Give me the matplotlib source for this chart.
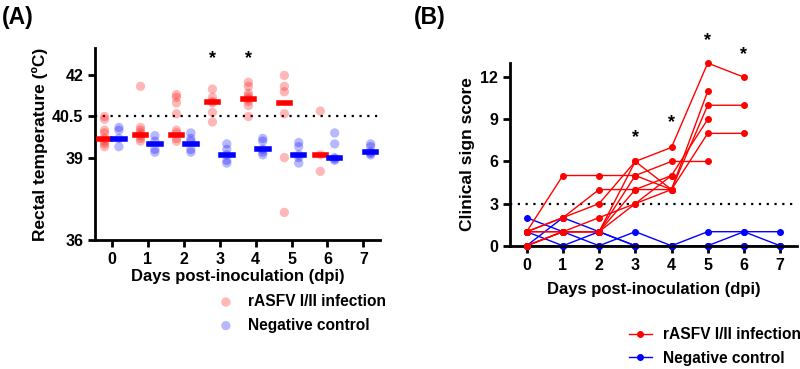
import matplotlib.pyplot as plt

plt.rcParams['font.family'] = ['Liberation Sans', 'DejaVu Sans']
plt.rcParams['font.weight'] = 'bold'

# ---- (A) rectal temperature, one list per day ----
days = [0, 1, 2, 3, 4, 5, 6, 7]
temp_inf = [
    [40.5, 40.4, 40.0, 39.9, 39.7, 39.6, 39.5, 39.4],
    [41.6, 40.1, 40.0, 39.9, 39.8, 39.7, 39.6],
    [41.3, 41.2, 41.0, 40.6, 40.0, 39.9, 39.7, 39.6],
    [41.5, 41.2, 41.05, 41.0, 40.65, 40.3],
    [41.75, 41.6, 41.35, 41.25, 41.15, 41.05, 40.9, 40.5],
    [42.0, 41.6, 41.4, 40.6, 39.0, 37.0],
    [40.7, 39.1, 38.5],
    [],
]
temp_ctrl = [
    [40.1, 40.0, 39.7, 39.4],
    [39.8, 39.6, 39.3, 39.2],
    [39.9, 39.7, 39.6, 39.3, 39.2],
    [39.5, 39.3, 39.1, 38.9, 38.8],
    [39.7, 39.6, 39.3, 39.2, 39.1],
    [39.55, 39.4, 39.1, 39.0, 38.8],
    [39.9, 39.5, 39.0, 38.95, 38.9],
    [39.5, 39.4, 39.2, 39.15, 39.1],
]
med_inf = [39.69, 39.84, 39.84, 41.02, 41.14, 41.0, 39.08, None]
med_ctrl = [39.69, 39.48, 39.48, 39.08, 39.3, 39.1, 38.97, 39.2]
fever = 40.5
star_days_a = [3, 4]

# ---- (B) clinical scores, one list per pig ----
score_inf = [
    [1, 5, 5, 5, 4, 10, 10],
    [1, 2, 4, 4, 4, 11],
    [0, 1, 1, 6, 7, 13, 12],
    [1, 1, 1, 5, 6, 6],
    [0, 1, 1, 4, 5, 9],
    [1, 2, 3, 6, 4, 8, 8],
    [1, 1, 2, 3, 5],
    [0, 1, 1, 3, 4],
]
score_ctrl = [
    [2, 1, 0, 0, 0, 0, 0, 0],
    [0, 2, 1, 0, 0, 1, 1, 1],
    [1, 0, 0, 1, 0, 0, 1, 0],
    [0, 0, 1, 0, 0, 0, 0, 0],
]
score_cut = 3
star_b = {3: 7.7, 4: 8.75, 5: 14.6, 6: 13.6}

RED = '#ff0000'
BLUE = '#0000ff'

fig = plt.figure(figsize=(8, 3.69), dpi=100)
axA = fig.add_axes([0.119, 0.350, 0.356, 0.520])
axB = fig.add_axes([0.6375, 0.334, 0.3585, 0.495])


def style(ax, pad):
    for s in ['top', 'right']:
        ax.spines[s].set_visible(False)
    for s in ['left', 'bottom']:
        ax.spines[s].set_linewidth(2)
    ax.tick_params(width=2, length=5, labelsize=11.5)
    ax.set_xticks(days)
    ax.set_xlim(-0.46, 7.46)
    ax.set_xlabel('Days post-inoculation (dpi)', fontsize=12, fontweight='bold', labelpad=pad)


# panel A
off = 0.2
for d in days:
    if temp_inf[d]:
        axA.scatter([d - off] * len(temp_inf[d]), temp_inf[d], s=45, color=RED, alpha=0.28,
                    edgecolor='none', zorder=2)
    axA.scatter([d + off] * len(temp_ctrl[d]), temp_ctrl[d], s=45, color=BLUE, alpha=0.28,
                edgecolor='none', zorder=2)
    if med_inf[d] is not None:
        axA.plot([d - off - 0.16, d - off + 0.16], [med_inf[d]] * 2, color=RED, lw=4, zorder=3)
    axA.plot([d + off - 0.16, d + off + 0.16], [med_ctrl[d]] * 2, color=BLUE, lw=4, zorder=3)
axA.axhline(fever, color='black', ls=(0, (1, 2.5)), lw=1.6, zorder=1)
for d in star_days_a:
    axA.text(d - off, 42.62, '*', ha='center', va='center', fontsize=13, fontweight='bold')
axA.set_ylim(36, 43)
axA.set_yticks([36, 39, 40.5, 42])
axA.set_yticklabels(['36', '39', '40.5', '42'])
axA.set_ylabel('Rectal temperature (ºC)', fontsize=12.5, fontweight='bold', labelpad=3)
style(axA, 2)
axA.scatter([], [], s=45, color=RED, alpha=0.28, edgecolor='none', label='rASFV I/II infection')
axA.scatter([], [], s=45, color=BLUE, alpha=0.28, edgecolor='none', label='Negative control')
axA.legend(loc='upper left', bbox_to_anchor=(0.355, -0.21), frameon=False, fontsize=11.2,
           handletextpad=0.4, labelspacing=0.55)

# panel B
for pig in score_ctrl:
    axB.plot(days[:len(pig)], pig, color=BLUE, lw=1, marker='o', ms=4, zorder=2, clip_on=False)
for pig in score_inf:
    axB.plot(days[:len(pig)], pig, color=RED, lw=1, marker='o', ms=4, zorder=3, clip_on=False)
axB.axhline(score_cut, color='black', ls=(0, (1, 2.5)), lw=1.6, zorder=1)
for d, y in star_b.items():
    axB.text(d, y, '*', ha='center', va='center', fontsize=13, fontweight='bold')
axB.set_ylim(0, 13)
axB.set_yticks([0, 3, 6, 9, 12])
axB.set_ylabel('Clinical sign score', fontsize=12.5, fontweight='bold', labelpad=4)
style(axB, 7)
axB.plot([], [], color=RED, lw=1, marker='o', ms=4, label='rASFV I/II infection')
axB.plot([], [], color=BLUE, lw=1, marker='o', ms=4, label='Negative control')
axB.legend(loc='upper left', bbox_to_anchor=(0.365, -0.37), frameon=False, fontsize=11.2,
           handlelength=1.5, handletextpad=0.7, labelspacing=0.55)

fig.text(0.002, 0.985, '(A)', fontsize=16.5, fontweight='bold', va='top')
fig.text(0.517, 0.985, '(B)', fontsize=16.5, fontweight='bold', va='top')

fig.savefig('out.png', dpi=100)
